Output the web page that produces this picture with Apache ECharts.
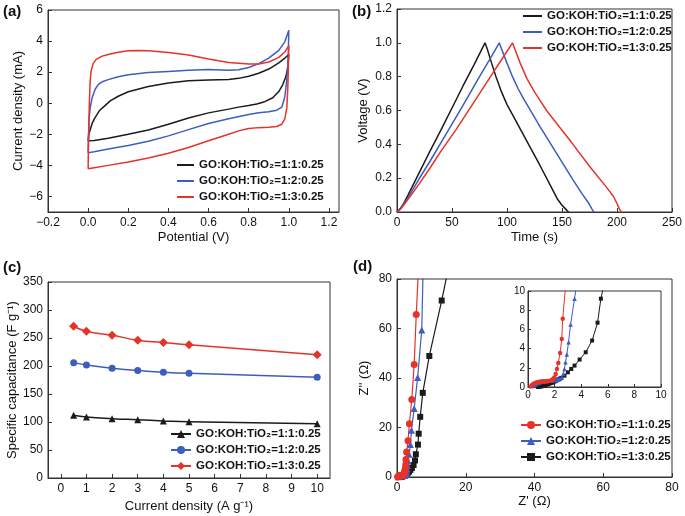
<!DOCTYPE html>
<html><head><meta charset="utf-8">
<script src="https://cdn.jsdelivr.net/npm/echarts@6/dist/echarts.min.js"></script>
<style>html,body{margin:0;padding:0;background:#fff}#c{width:685px;height:516px}</style>
</head><body><div id="c"></div>
<script>
const FONT = '"Liberation Sans", Arial, Helvetica, sans-serif';
const BLACK = '#1b1b1b', BLUE = '#3d5dbf', RED = '#e63329';
const legendLabels = ['GO:KOH:TiO\u2082=1:1:0.25', 'GO:KOH:TiO\u2082=1:2:0.25', 'GO:KOH:TiO\u2082=1:3:0.25'];

// (a) CV loops [potential V, current mA]
const cvBlack = [[0,-2.42],[0.003,-2.0],[0.008,-1.8],[0.02,-1.3],[0.033,-0.96],[0.058,-0.45],[0.08,-0.2],[0.11,0.15],[0.15,0.45],[0.2,0.74],[0.3,1.08],[0.4,1.3],[0.5,1.44],[0.6,1.5],[0.7,1.53],[0.75,1.6],[0.8,1.74],[0.85,1.93],[0.9,2.2],[0.95,2.6],[0.98,2.9],[1.0,3.15],
  [0.995,2.3],[0.985,1.7],[0.97,1.2],[0.95,0.75],[0.92,0.35],[0.88,0.1],[0.84,-0.05],[0.8,-0.14],[0.75,-0.25],[0.7,-0.38],[0.6,-0.62],[0.5,-0.95],[0.4,-1.35],[0.3,-1.72],[0.2,-2.0],[0.1,-2.25],[0.03,-2.4],[0,-2.42]];
const cvBlue = [[0,-3.18],[0.002,-2.0],[0.005,-1.0],[0.01,-0.3],[0.02,0.35],[0.035,0.9],[0.05,1.2],[0.07,1.38],[0.1,1.52],[0.15,1.7],[0.2,1.83],[0.3,1.97],[0.4,2.05],[0.5,2.12],[0.6,2.17],[0.7,2.12],[0.75,2.15],[0.8,2.3],[0.85,2.55],[0.9,2.9],[0.95,3.4],[0.98,3.95],[1.0,4.7],
  [0.997,3.0],[0.99,1.5],[0.98,0.4],[0.965,-0.25],[0.94,-0.45],[0.9,-0.55],[0.85,-0.62],[0.8,-0.72],[0.7,-1.0],[0.6,-1.3],[0.5,-1.7],[0.4,-2.1],[0.3,-2.45],[0.2,-2.72],[0.1,-2.95],[0.03,-3.12],[0,-3.18]];
const cvRed = [[0,-4.22],[0.001,-3.0],[0.003,-1.8],[0.006,0.0],[0.01,1.4],[0.015,2.1],[0.025,2.55],[0.04,2.82],[0.07,3.03],[0.1,3.14],[0.15,3.28],[0.2,3.37],[0.25,3.4],[0.3,3.38],[0.4,3.27],[0.5,3.1],[0.6,2.85],[0.7,2.62],[0.8,2.52],[0.85,2.53],[0.9,2.65],[0.95,2.95],[0.98,3.3],[1.0,3.7],
  [0.998,2.5],[0.995,1.0],[0.99,-0.3],[0.98,-1.0],[0.965,-1.35],[0.94,-1.5],[0.9,-1.55],[0.85,-1.57],[0.8,-1.62],[0.75,-1.78],[0.7,-2.0],[0.6,-2.42],[0.5,-2.85],[0.4,-3.22],[0.3,-3.52],[0.2,-3.78],[0.1,-4.0],[0.03,-4.15],[0,-4.22]];

// (b) GCD [time s, voltage V]
const gcdBlack = [[0,0],[3,0.02],[6,0.05],[10,0.1],[15,0.165],[20,0.23],[30,0.36],[40,0.485],[50,0.615],[60,0.745],[70,0.87],[80,1.0],[82,0.965],[86,0.88],[90,0.8],[95,0.71],[100,0.635],[105,0.575],[113,0.48],[120,0.395],[130,0.275],[140,0.15],[146,0.075],[150,0.04],[153,0.02],[155,0.006],[156,0]];
const gcdBlue = [[0,0],[3,0.02],[6,0.045],[10,0.085],[15,0.14],[20,0.195],[30,0.3],[45,0.465],[60,0.63],[75,0.8],[85,0.91],[93,1.0],[95,0.965],[100,0.88],[105,0.8],[110,0.73],[115,0.67],[120,0.615],[130,0.505],[140,0.4],[150,0.295],[160,0.19],[168,0.11],[174,0.055],[177,0.02],[178.5,0.005],[179,0]];
const gcdRed = [[0,0],[3,0.015],[6,0.04],[10,0.075],[15,0.12],[20,0.165],[30,0.26],[40,0.36],[54,0.49],[70,0.65],[85,0.8],[95,0.9],[105,1.0],[107,0.965],[112,0.88],[118,0.79],[125,0.71],[130,0.66],[136,0.6],[145,0.525],[160,0.4],[175,0.27],[190,0.15],[197,0.09],[200,0.05],[202,0.02],[203.5,0.005],[204,0]];

// (c) rate capability
const currentDensity = [0.5, 1, 2, 3, 4, 5, 10];
const capBlack = [112, 109, 106, 104, 102, 100.5, 97];
const capBlue = [206, 202, 196, 192, 189, 187, 180];
const capRed = [271, 262, 255, 246, 242, 238, 220];

// (d) Nyquist [Z', Z'']
const eisRed = [[0.2,0.05],[0.3,0.2],[0.4,0.3],[0.5,0.38],[0.6,0.45],[0.7,0.5],[0.8,0.53],[0.9,0.55],[1.0,0.57],[1.1,0.58],[1.2,0.58],[1.3,0.58],[1.4,0.59],[1.5,0.6],[1.6,0.62],[1.7,0.66],[1.8,0.73],[1.9,0.85],[1.98,1.0],[2.08,1.36],[2.18,1.88],[2.28,2.5],[2.41,3.55],[2.54,5.0],[2.61,7.1],[2.8,10.1],[3.2,14.6],[3.6,21.5],[4.3,31.3],[5.0,45.5],[5.6,65.7],[6.45,90]];
const eisBlue = [[0.4,0.1],[0.5,0.2],[0.6,0.3],[0.7,0.38],[0.8,0.45],[0.9,0.5],[1.0,0.55],[1.1,0.58],[1.2,0.62],[1.3,0.63],[1.4,0.65],[1.5,0.66],[1.6,0.68],[1.7,0.69],[1.8,0.7],[1.9,0.71],[2.0,0.72],[2.1,0.74],[2.2,0.78],[2.3,0.82],[2.4,0.88],[2.54,1.0],[2.66,1.36],[2.74,1.88],[2.82,2.58],[2.92,3.38],[3.05,4.67],[3.2,6.5],[3.5,9.2],[3.9,13.1],[4.2,18.9],[5.0,27.7],[6.0,40.2],[7.2,59.4],[7.7,90]];
const eisBlack = [[0.75,0.0],[0.9,0.03],[1.0,0.06],[1.1,0.1],[1.2,0.14],[1.3,0.2],[1.4,0.25],[1.5,0.3],[1.6,0.35],[1.7,0.4],[1.8,0.45],[1.9,0.5],[2.0,0.57],[2.1,0.65],[2.2,0.72],[2.3,0.8],[2.4,0.87],[2.5,0.95],[2.74,1.18],[3.0,1.53],[3.25,1.88],[3.5,2.23],[3.88,2.86],[4.34,3.62],[4.82,4.84],[5.23,6.7],[5.48,9.2],[6.1,13.1],[6.3,17.5],[6.75,24.3],[7.5,34.0],[9.4,48.9],[13.0,71.3],[15.8,90]];

// tick label values
const ticksAx = [-0.2, 0, 0.2, 0.4, 0.6, 0.8, 1.0, 1.2];
const ticksAy = [-6, -4, -2, 0, 2, 4, 6];
const ticksBx = [0, 50, 100, 150, 200, 250];
const ticksBy = [0, 0.2, 0.4, 0.6, 0.8, 1.0, 1.2];
const ticksCx = [0, 1, 2, 3, 4, 5, 6, 7, 8, 9, 10];
const ticksCy = [0, 50, 100, 150, 200, 250, 300, 350];
const ticksDx = [0, 20, 40, 60, 80];
const ticksDy = [0, 20, 40, 60, 80];
const ticksInset = [0, 2, 4, 6, 8, 10];

function axis(gridIndex, min, max, ticks, dec, o) {
  const base = {
    type: 'value', gridIndex, min, max,
    axisLine: {show: true, onZero: false, lineStyle: {color: '#333', width: 1}},
    axisTick: {show: true, inside: true, length: 4, customValues: ticks, lineStyle: {color: '#333'}},
    axisLabel: {customValues: ticks, fontSize: 12, color: '#111', fontFamily: FONT, margin: 5,
      formatter: v => v.toFixed(dec).replace('-', '\u2212')},
    splitLine: {show: false},
    nameLocation: 'middle',
    nameTextStyle: {fontSize: 13, color: '#111', fontFamily: FONT}
  };
  if (o && o.axisLabel) { Object.assign(base.axisLabel, o.axisLabel); delete o.axisLabel; }
  if (o && o.axisTick) { Object.assign(base.axisTick, o.axisTick); delete o.axisTick; }
  return Object.assign(base, o || {});
}

function lineSeries(name, data, xi, color, extra) {
  return Object.assign({
    name, type: 'line', data, xAxisIndex: xi, yAxisIndex: xi,
    symbol: 'none', lineStyle: {color, width: 1.5}, itemStyle: {color}, color,
    clip: true, animation: false
  }, extra || {});
}

const nameMap = {a1: legendLabels[0], a2: legendLabels[1], a3: legendLabels[2],
  b1: legendLabels[0], b2: legendLabels[1], b3: legendLabels[2],
  c1: legendLabels[0], c2: legendLabels[1], c3: legendLabels[2],
  d1: legendLabels[0], d2: legendLabels[1], d3: legendLabels[2]};

function legend(names, left, top, w, lineOnly) {
  const l = {data: names, orient: 'vertical', left, top, itemWidth: w, itemHeight: lineOnly ? 2 : 10, itemGap: 4,
    selectedMode: false, padding: 0, formatter: n => nameMap[n],
    textStyle: {fontSize: 11.5, fontWeight: 'bold', color: '#111', fontFamily: FONT}};
  if (lineOnly) l.icon = 'rect';
  return l;
}

const chart = echarts.init(document.getElementById('c'), null, {renderer: 'canvas'});
chart.setOption({
  animation: false,
  backgroundColor: '#fff',
  grid: [
    {left: 48, top: 10, width: 291, height: 202, show: true, borderColor: '#333', borderWidth: 1},
    {left: 397, top: 9, width: 276, height: 203, show: true, borderColor: '#333', borderWidth: 1},
    {left: 48, top: 282, width: 282, height: 196, show: true, borderColor: '#333', borderWidth: 1},
    {left: 397, top: 279, width: 275, height: 198, show: true, borderColor: '#333', borderWidth: 1},
    {left: 528, top: 291, width: 133, height: 96, show: true, borderColor: '#333', borderWidth: 1, backgroundColor: '#fff'}
  ],
  xAxis: [
    axis(0, -0.2, 1.25, ticksAx, 1, {name: 'Potential (V)', nameGap: 19}),
    axis(1, 0, 250, ticksBx, 0, {name: 'Time (s)', nameGap: 19}),
    axis(2, -0.5, 10.5, ticksCx, 0, {name: 'Current density (A g\u207B\u00B9)', nameGap: 22}),
    axis(3, 0, 80, ticksDx, 0, {name: "Z' (\u03A9)", nameGap: 18}),
    axis(4, 0, 10, ticksInset, 0, {axisLabel: {fontSize: 10, margin: 3}, axisTick: {length: 3}})
  ],
  yAxis: [
    axis(0, -7, 6, ticksAy, 0, {name: 'Current density (mA)', nameGap: 19}),
    axis(1, 0, 1.2, ticksBy, 1, {name: 'Voltage (V)', nameGap: 27}),
    axis(2, 0, 350, ticksCy, 0, {name: 'Specific capacitance (F g\u207B\u00B9)', nameGap: 28}),
    axis(3, 0, 80, ticksDy, 0, {name: "Z'' (\u03A9)", nameGap: 26}),
    axis(4, 0, 10, ticksInset, 0, {axisLabel: {fontSize: 10, margin: 3}, axisTick: {length: 3}})
  ],
  legend: [
    legend(['a1', 'a2', 'a3'], 177, 159, 17, true),
    legend(['b1', 'b2', 'b3'], 523, 10, 19, true),
    legend(['c1', 'c2', 'c3'], 170, 428, 20, false),
    legend(['d1', 'd2', 'd3'], 520, 419, 20, false)
  ],
  graphic: [
    {type: 'text', left: 3, top: 4, style: {text: '(a)', font: 'bold 15px ' + FONT, fill: '#111'}},
    {type: 'text', left: 352, top: 4, style: {text: '(b)', font: 'bold 15px ' + FONT, fill: '#111'}},
    {type: 'text', left: 3, top: 260, style: {text: '(c)', font: 'bold 15px ' + FONT, fill: '#111'}},
    {type: 'text', left: 353, top: 259, style: {text: '(d)', font: 'bold 15px ' + FONT, fill: '#111'}}
  ],
  series: [
    lineSeries('a1', cvBlack, 0, BLACK),
    lineSeries('a2', cvBlue, 0, BLUE),
    lineSeries('a3', cvRed, 0, RED),
    lineSeries('b1', gcdBlack, 1, BLACK),
    lineSeries('b2', gcdBlue, 1, BLUE),
    lineSeries('b3', gcdRed, 1, RED),
    lineSeries('c1', currentDensity.map((x, i) => [x, capBlack[i]]), 2, BLACK, {symbol: 'triangle', symbolSize: 7, smooth: true}),
    lineSeries('c2', currentDensity.map((x, i) => [x, capBlue[i]]), 2, BLUE, {symbol: 'circle', symbolSize: 7, smooth: true}),
    lineSeries('c3', currentDensity.map((x, i) => [x, capRed[i]]), 2, RED, {symbol: 'diamond', symbolSize: 9, smooth: true}),
    lineSeries('d3', eisBlack, 3, BLACK, {symbol: 'rect', symbolSize: 6, lineStyle: {color: BLACK, width: 1.2}}),
    lineSeries('d2', eisBlue, 3, BLUE, {symbol: 'triangle', symbolSize: 7, lineStyle: {color: BLUE, width: 1.2}}),
    lineSeries('d1', eisRed, 3, RED, {symbol: 'circle', symbolSize: 7, lineStyle: {color: RED, width: 1.2}}),
    lineSeries('e3', eisBlack, 4, BLACK, {symbol: 'rect', symbolSize: 4, lineStyle: {color: BLACK, width: 1}}),
    lineSeries('e2', eisBlue, 4, BLUE, {symbol: 'triangle', symbolSize: 4.5, lineStyle: {color: BLUE, width: 1}}),
    lineSeries('e1', eisRed, 4, RED, {symbol: 'circle', symbolSize: 4.5, lineStyle: {color: RED, width: 1}})
  ]
});
</script></body></html>
